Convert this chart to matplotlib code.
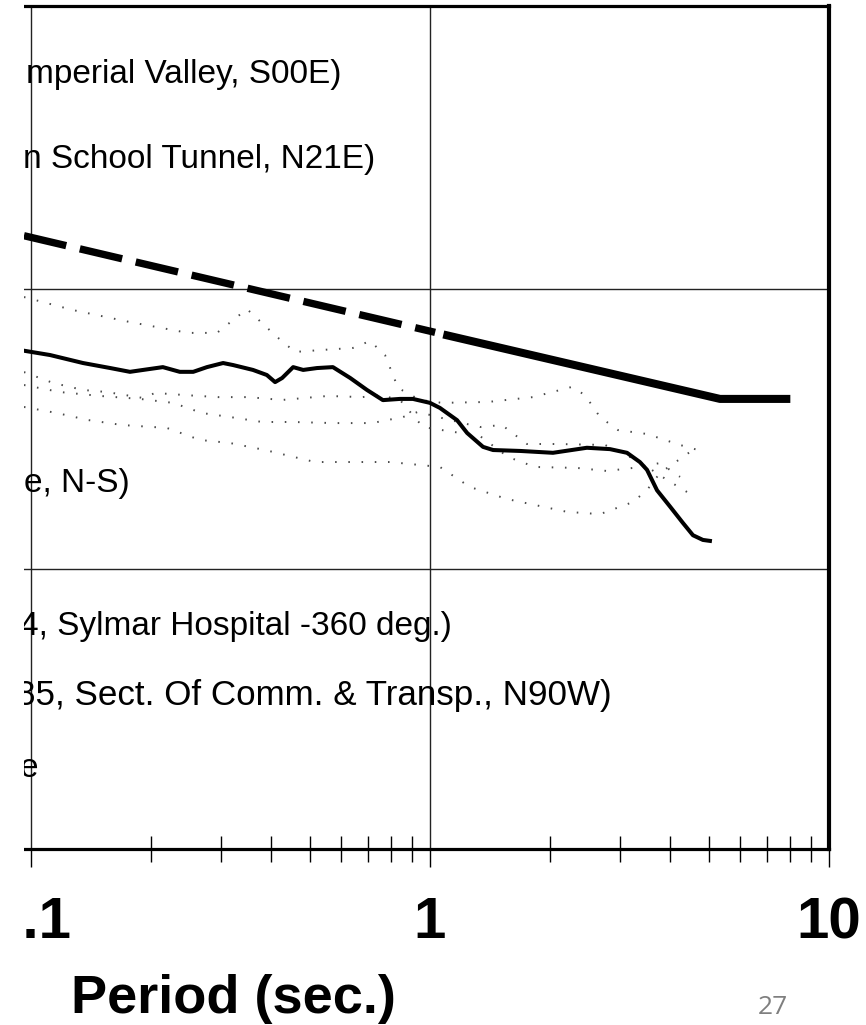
import matplotlib.pyplot as plt
from matplotlib.patches import Rectangle
from matplotlib.ticker import NullLocator

plt.rcParams['font.family'] = ['Liberation Sans', 'DejaVu Sans']

# ---- data (period in sec., spectral value) ----
# design spectrum: dashed part, then solid part with the flat tail
design_dash_T = [0.096, 1.03]
design_dash_Sa = [1.55, 0.70]
design_T = [1.08, 5.33, 8.0]
design_Sa = [0.688, 0.405, 0.405]

# solid record
solid_T = [0.096, 0.1116, 0.135, 0.158, 0.177, 0.191, 0.214, 0.236, 0.255, 0.276,
           0.303, 0.321, 0.360, 0.390, 0.409, 0.426, 0.454, 0.481, 0.521, 0.571,
           0.631, 0.695, 0.762, 0.841, 0.906, 1.0, 1.059, 1.169, 1.239, 1.358,
           1.439, 1.683, 2.033, 2.473, 2.825, 3.117, 3.357, 3.499, 3.707, 3.997,
           4.305, 4.561, 4.830, 5.03]
solid_Sa = [0.602, 0.581, 0.544, 0.522, 0.506, 0.514, 0.526, 0.506, 0.506, 0.526,
            0.544, 0.535, 0.514, 0.493, 0.465, 0.481, 0.526, 0.514, 0.522, 0.526,
            0.481, 0.436, 0.401, 0.405, 0.405, 0.392, 0.376, 0.340, 0.306, 0.273,
            0.266, 0.264, 0.260, 0.271, 0.268, 0.260, 0.241, 0.226, 0.191, 0.167,
            0.146, 0.132, 0.127, 0.126]

# dotted records
dot1_T = [0.096, 0.1274, 0.177, 0.2474, 0.2924, 0.3477, 0.4136, 0.4588, 0.530, 0.6412,
          0.7075, 0.7713, 0.8318, 0.944, 1.072, 1.397, 1.811, 2.268, 2.445, 2.667,
          2.958, 3.499, 4.233, 4.89]
dot1_Sa = [0.936, 0.841, 0.762, 0.697, 0.697, 0.848, 0.674, 0.596, 0.605, 0.616,
           0.652, 0.581, 0.443, 0.4015, 0.392, 0.395, 0.411, 0.447, 0.418, 0.349,
           0.3135, 0.3035, 0.2773, 0.2618]

dot2_T = [0.096, 0.1135, 0.1349, 0.155, 0.191, 0.2046, 0.243, 0.294, 0.3499, 0.4258,
          0.5551, 0.676, 0.7495, 0.841, 0.960, 1.109, 1.334, 1.569, 1.833, 2.335,
          2.777, 3.226, 3.771, 4.233]
dot2_Sa = [0.505, 0.462, 0.436, 0.4285, 0.408, 0.4254, 0.418, 0.411, 0.411, 0.4015,
           0.415, 0.411, 0.418, 0.4015, 0.3214, 0.311, 0.2985, 0.2512, 0.2314, 0.2296,
           0.2239, 0.2296, 0.239, 0.2133]

dot3_T = [0.096, 0.1183, 0.1489, 0.1875, 0.227, 0.2683, 0.3153, 0.3793, 0.4535, 0.5715,
          0.7155, 0.8557, 0.933, 1.122, 1.334, 1.514, 1.750, 2.081, 2.746, 2.993,
          3.357, 3.926, 4.406]
dot3_Sa = [0.454, 0.4285, 0.415, 0.405, 0.392, 0.3606, 0.349, 0.335, 0.335, 0.332,
           0.332, 0.349, 0.364, 0.3404, 0.3214, 0.3268, 0.2795, 0.2795, 0.2773, 0.2618,
           0.241, 0.208, 0.1884]

dot4_T = [0.096, 0.1161, 0.139, 0.169, 0.219, 0.2652, 0.3153, 0.3859, 0.515, 0.794,
          1.059, 1.259, 1.559, 2.205, 2.667, 3.226, 3.499, 3.771, 4.484]
dot4_Sa = [0.379, 0.3606, 0.3404, 0.3268, 0.319, 0.289, 0.2818, 0.266, 0.241, 0.241,
           0.2314, 0.1963, 0.1778, 0.16, 0.157, 0.1734, 0.1915, 0.2203, 0.2618]

tick_vals = [0.1, 1, 10]
tick_labels = ['0.1', '1', '10']
minor_vals = [0.06, 0.07, 0.08, 0.09, 0.2, 0.3, 0.4, 0.5, 0.6, 0.7, 0.8, 0.9,
              2, 3, 4, 5, 6, 7, 8, 9]

legend_texts = ['mperial Valley, S00E)',
                'n School Tunnel, N21E)',
                'e, N-S)',
                '4, Sylmar Hospital -360 deg.)',
                '85, Sect. Of Comm. & Transp., N90W)',
                'e']

W, H = 866, 1025
fig = plt.figure(figsize=(W / 100, H / 100), dpi=100)
# axes reach past the left edge of the picture (cropped original)
ax = fig.add_axes([-89.1 / W, 1 - 849 / H, (829 + 89.1) / W, 843 / H])
ax.set_xscale('log')
ax.set_yscale('log')
ax.set_xlim(0.05, 10)
ax.set_ylim(0.01, 10 ** 1.0107)

dot_style = dict(color='#4a4a4a', lw=1.4, linestyle=(0, (0.8, 6)), zorder=2)
ax.plot(dot1_T, dot1_Sa, **dot_style)
ax.plot(dot2_T, dot2_Sa, **dot_style)
ax.plot(dot3_T, dot3_Sa, **dot_style)
ax.plot(dot4_T, dot4_Sa, **dot_style)

ax.plot(solid_T, solid_Sa, color='black', lw=2.9, zorder=3)
ax.plot(design_dash_T, design_dash_Sa, color='black', lw=5.3,
        linestyle=(0, (5.9, 1.9)), dash_capstyle='butt', zorder=4)
ax.plot(design_T, design_Sa, color='black', lw=5.8,
        solid_capstyle='butt', zorder=4)

# ticks / grid
ax.set_xticks(tick_vals)
ax.set_xticklabels(tick_labels)
ax.set_xticks(minor_vals, minor=True)
ax.xaxis.set_minor_formatter(plt.NullFormatter())
ax.set_yticks([0.1, 1])
ax.set_yticklabels([])
ax.yaxis.set_minor_locator(NullLocator())
ax.tick_params(axis='y', length=0)
ax.tick_params(axis='x', which='major', direction='out', length=13, width=1,
               pad=21, labelsize=42)
ax.tick_params(axis='x', which='minor', direction='inout', length=19, width=1)
for lab in ax.get_xticklabels():
    lab.set_fontweight('bold')
ax.grid(True, which='major', color='#222222', lw=1.0)
ax.grid(False, which='minor')

ax.spines['left'].set_visible(False)
ax.spines['top'].set_linewidth(2.3)
ax.spines['bottom'].set_linewidth(2.3)
ax.spines['right'].set_linewidth(3.0)

ax.set_xlabel('Period (sec.)', fontsize=39, fontweight='bold')
ax.xaxis.label.set_va('baseline')
ax.xaxis.set_label_coords((233 + 89.1) / 918.1, (849 - 1013) / 843)

# legend lines (left part cut off in the original)
rights = [342, 375, 130, 452, 612, 38]
bases = [83, 168, 492, 635, 705, 777]
sizes = [24, 24, 24, 24, 25.2, 24]
for s, xr, yb, fs in zip(legend_texts, rights, bases, sizes):
    fig.text(xr / W, 1 - yb / H, s, ha='right', va='baseline', fontsize=fs)

# white strip on the left edge of the crop
fig.add_artist(Rectangle((0, 0), 24 / W, 1, transform=fig.transFigure,
                         facecolor='white', edgecolor='none', zorder=10))

fig.text(773 / W, 1 - 1007 / H, '27', ha='center', va='center', fontsize=19,
         color='#7f7f7f', family=['Open Sans', 'DejaVu Sans'])

fig.savefig('out.png', dpi=100)
